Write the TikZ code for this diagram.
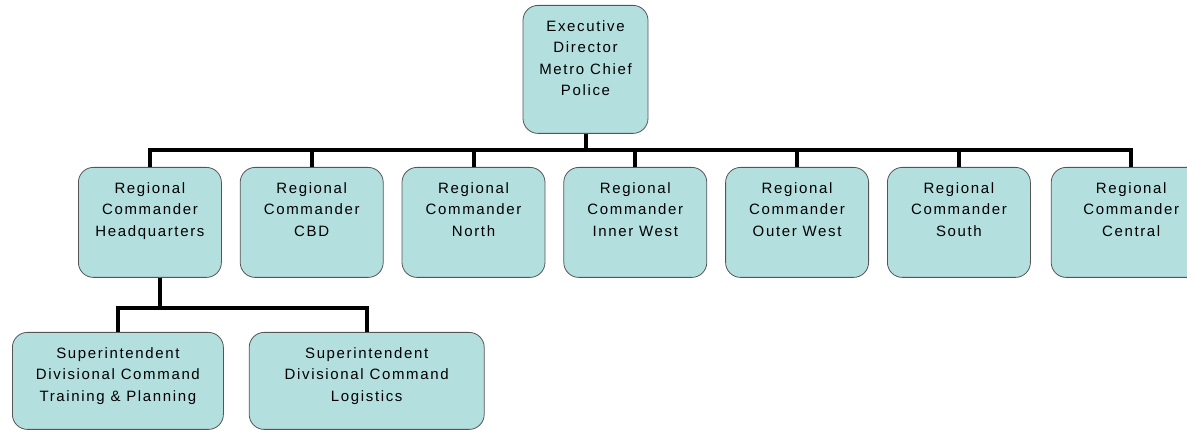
\documentclass[tikz,border=0pt]{standalone}
\usepackage{fontspec}
\usetikzlibrary{positioning}
\newfontfamily\boxfont[LetterSpace=11]{Liberation Sans}
\definecolor{boxfill}{RGB}{180,223,223}
\definecolor{boxline}{RGB}{85,85,85}
\newcommand\boxtext[3]{\begin{minipage}[c][#2][t]{#1}\centering\fontsize{15pt}{21.5pt}\selectfont\rule{0pt}{26pt}#3\end{minipage}}
\begin{document}
\begin{tikzpicture}[node distance=18pt,
    box/.style = {draw=boxline, fill=boxfill, line width=0.8pt, rounded corners=15pt, inner sep=0pt, font=\boxfont},
    link/.style = {line width=4pt, black}]
    \useasboundingbox (0,0) rectangle (1187pt,-430pt);
    \node[box, anchor=north] (exec) at (585.5pt,-5pt) {\boxtext{125pt}{128pt}{Executive\\Director\\Metro Chief\\Police}};
    \node[box, anchor=north west] (hq) at (78pt,-167pt) {\boxtext{143pt}{110pt}{Regional\\Commander\\Headquarters}};
    \node[box] (cbd) [right=of hq] {\boxtext{143pt}{110pt}{Regional\\Commander\\CBD}};
    \node[box] (north) [right=of cbd] {\boxtext{143pt}{110pt}{Regional\\Commander\\North}};
    \node[box] (innerwest) [right=of north] {\boxtext{143pt}{110pt}{Regional\\Commander\\Inner West}};
    \node[box] (outerwest) [right=of innerwest] {\boxtext{143pt}{110pt}{Regional\\Commander\\Outer West}};
    \node[box] (south) [right=of outerwest] {\boxtext{143pt}{110pt}{Regional\\Commander\\South}};
    \node[box] (central) [right=20pt of south] {\boxtext{160pt}{110pt}{Regional\\Commander\\Central}};
    \node[box, anchor=north west] (training) at (12pt,-332pt) {\boxtext{211pt}{97pt}{Superintendent\\Divisional Command\\Training \& Planning}};
    \node[box] (logistics) [right=25pt of training] {\boxtext{235pt}{97pt}{Superintendent\\Divisional Command\\Logistics}};
    \coordinate (topbar) at (0,-150pt);
    \coordinate (lowbar) at (0,-308pt);
    \draw[link] (exec.south) -- (exec.south |- topbar);
    \draw[link] (hq.north) |- (topbar -| central.north) -- (central.north);
    \foreach \n in {cbd,north,innerwest,outerwest,south}
        \draw[link] (\n.north) -- (\n.north |- topbar);
    \draw[link] ([xshift=10pt]hq.south) -- ([xshift=10pt]hq.south |- lowbar);
    \draw[link] (training.north) |- (lowbar -| logistics.north) -- (logistics.north);
\end{tikzpicture}
\end{document}
